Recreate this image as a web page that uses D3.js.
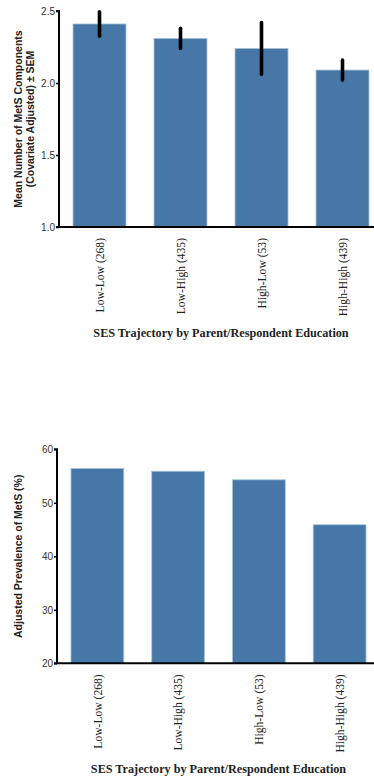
<!DOCTYPE html>
<html>
<head>
<meta charset="utf-8">
<script src="https://cdn.jsdelivr.net/npm/d3@7"></script>
<style>
  html, body { margin: 0; padding: 0; background: #fff; }
  svg { display: block; }
  .tick text { font-family: "Liberation Sans", Arial, sans-serif; font-size: 10px; fill: #333; }
  .cat text { font-family: "Liberation Serif", "Times New Roman", serif; font-size: 11.6px; fill: #222; }
</style>
</head>
<body>
<svg id="chart" width="374" height="781"></svg>
<script>
// Categories shared by both panels
const categories = ["Low-Low (268)", "Low-High (435)", "High-Low (53)", "High-High (439)"];

// Panel A: mean number of MetS components (covariate adjusted) and SEM
const meanComponents = [2.41, 2.31, 2.24, 2.09];
const semComponents = [0.085, 0.07, 0.18, 0.07];
const ticksA = [1.0, 1.5, 2.0, 2.5];

// Panel B: adjusted prevalence of MetS (%)
const prevalence = [56.4, 55.9, 54.3, 45.9];
const ticksB = [20, 30, 40, 50, 60];

const barColor = "#4677a6";
const svg = d3.select("#chart");

function panel(opts) {
  const g = svg.append("g");
  const x = d3.scaleBand()
    .domain(categories)
    .range(opts.xRange)
    .paddingInner(0.346)
    .paddingOuter(0.173);
  const y = d3.scaleLinear().domain(opts.yDomain).range(opts.yRange);

  // bars
  g.selectAll("rect.bar")
    .data(opts.values)
    .join("rect")
    .attr("class", "bar")
    .attr("x", (d, i) => x(categories[i]))
    .attr("width", x.bandwidth())
    .attr("y", d => y(d))
    .attr("height", d => y(opts.yDomain[0]) - y(d))
    .attr("fill", barColor)
    .attr("stroke", "#a9c3dc")
    .attr("stroke-width", 0.8);

  // error bars
  if (opts.errors) {
    g.selectAll("line.err")
      .data(opts.values)
      .join("line")
      .attr("class", "err")
      .attr("x1", (d, i) => x(categories[i]) + x.bandwidth() / 2)
      .attr("x2", (d, i) => x(categories[i]) + x.bandwidth() / 2)
      .attr("y1", (d, i) => y(d - opts.errors[i]))
      .attr("y2", (d, i) => y(d + opts.errors[i]))
      .attr("stroke", "#000")
      .attr("stroke-width", 3.6)
      .attr("stroke-linecap", "round");
  }

  // y axis
  const yAxis = g.append("g")
    .attr("transform", `translate(${opts.xRange[0]},0)`)
    .call(d3.axisLeft(y).tickValues(opts.ticks).tickFormat(opts.fmt).tickSize(3).tickPadding(1));
  yAxis.select(".domain").attr("stroke-width", 2).attr("d", `M-3,${opts.yRange[1]}H0V${opts.yRange[0]}`);
  yAxis.selectAll(".tick line").attr("stroke-width", 1.5);

  // x axis line
  g.append("line")
    .attr("x1", opts.xRange[0] - 3).attr("x2", opts.xRange[1])
    .attr("y1", opts.yRange[0]).attr("y2", opts.yRange[0])
    .attr("stroke", "#000").attr("stroke-width", 2);

  // category labels
  const cat = g.append("g").attr("class", "cat");
  cat.selectAll("text")
    .data(categories)
    .join("text")
    .attr("transform", d => `translate(${x(d) + x.bandwidth() / 2 + 4.2},${opts.yRange[0] + 11}) rotate(-90)`)
    .attr("text-anchor", "end")
    .text(d => d);

  // y label
  const lab = g.append("text")
    .attr("transform", `translate(0,${(opts.yRange[0] + opts.yRange[1]) / 2}) rotate(-90)`)
    .attr("text-anchor", "middle")
    .style("font-family", "'Liberation Sans', Arial, sans-serif")
    .style("font-weight", "bold")
    .style("font-size", "10.5px")
    .attr("fill", "#222");
  opts.yLabel.forEach((line, i) => {
    lab.append("tspan").attr("x", 0).attr("y", opts.yLabelX + i * 12).text(line);
  });

  // x title
  g.append("text")
    .attr("x", (x(categories[0]) + x(categories[3]) + x.bandwidth()) / 2)
    .attr("y", opts.titleY)
    .attr("text-anchor", "middle")
    .style("font-family", "'Liberation Serif', 'Times New Roman', serif")
    .style("font-weight", "bold")
    .style("font-size", "12.2px")
    .attr("fill", "#222")
    .text("SES Trajectory by Parent/Respondent Education");
}

panel({
  values: meanComponents,
  errors: semComponents,
  xRange: [59, 383],
  yDomain: [1.0, 2.5],
  yRange: [227, 11],
  ticks: ticksA,
  fmt: d3.format(".1f"),
  yLabel: ["Mean Number of MetS Components", "(Covariate Adjusted) \u00b1 SEM"],
  yLabelX: 22,
  titleY: 337
});

panel({
  values: prevalence,
  xRange: [57, 380],
  yDomain: [20, 60],
  yRange: [663.3, 449.3],
  ticks: ticksB,
  fmt: d3.format("d"),
  yLabel: ["Adjusted Prevalence of MetS (%)"],
  yLabelX: 22,
  titleY: 773
});
</script>
</body>
</html>
